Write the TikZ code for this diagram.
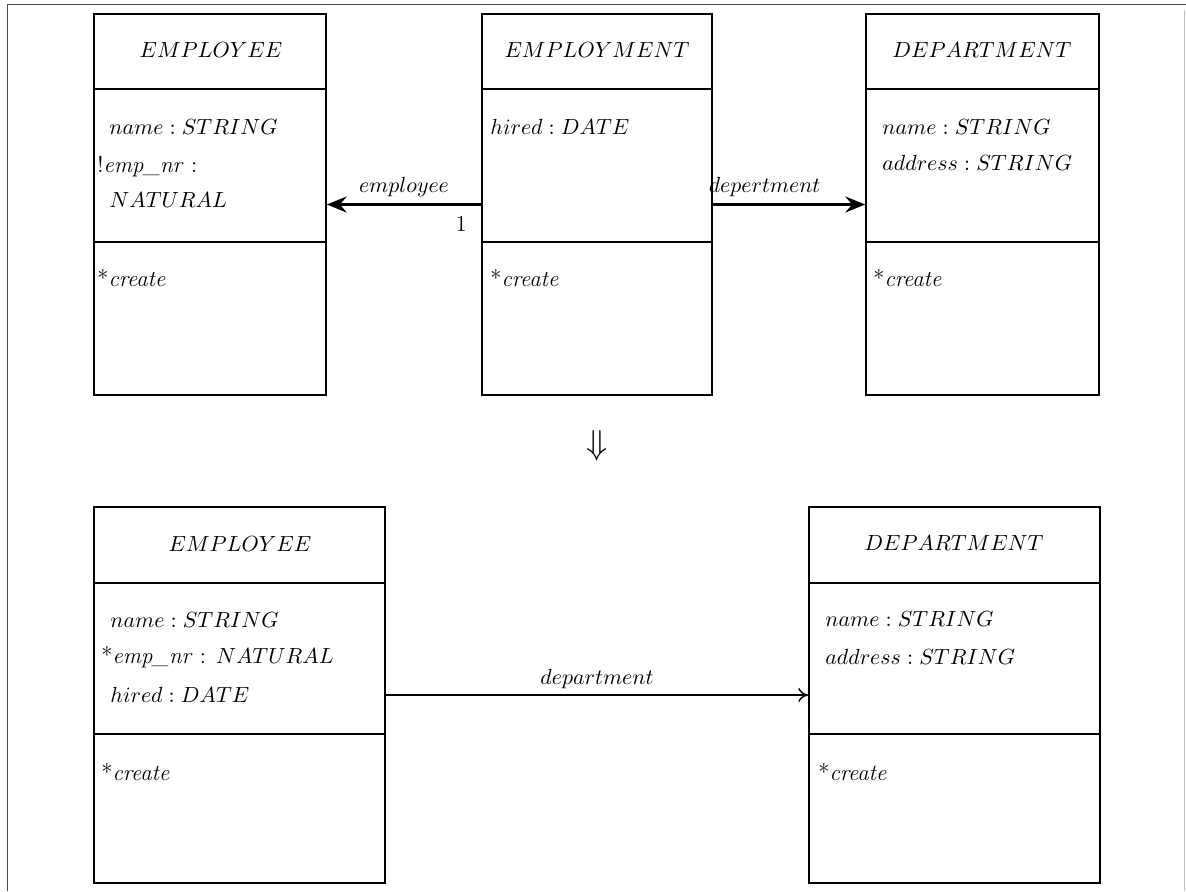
\documentclass[tikz,border=0pt]{standalone}
\usetikzlibrary{arrows.meta}
\begin{document}
\begin{tikzpicture}[x=0.5pt,y=-0.5pt,
  classbox/.style={draw,line width=0.75pt,rectangle,inner sep=0pt},
  lbl/.style={inner sep=0pt,font=\fontsize{11.4}{14}\selectfont},
  attr/.style={lbl,anchor=west},
  frameline/.style={line width=0.5pt,black!70},
  thickassoc/.style={line width=1.5pt,-{Stealth[length=10pt,width=8pt,inset=3.5pt]}},
  thinassoc/.style={line width=0.7pt,-{To[length=5pt,width=7pt]}}]
\useasboundingbox (0,0) rectangle (1186,891);
% page frame
\coordinate (fTL) at (7,4);
\coordinate (fTR) at (1186,4);
\coordinate (fBL) at (7,891);
\coordinate (fRT) at (1184,10);
\coordinate (fRB) at (1184,891);
\draw[frameline] (fBL) -- (fTL) -- (fTR);
\draw[line width=0.4pt,black!25] (fRT) -- (fRB);

% ---------- top row ----------
\node[classbox,minimum width=116pt,minimum height=190.5pt] (emp1) at (210,204.5) {};
\node[classbox,minimum width=115pt,minimum height=190.5pt] (empl) at (597,204.5) {};
\node[classbox,minimum width=116.5pt,minimum height=190.5pt] (dep1) at (982.5,204.5) {};
\foreach \b in {emp1,empl,dep1}{
  \draw[line width=0.75pt] (\b.west |- 0,89) -- (\b.east |- 0,89);
  \draw[line width=0.75pt] (\b.west |- 0,242) -- (\b.east |- 0,242);
}
\node[lbl] (emp1t) at (211,50) {$EMPLOYEE$};
\node[attr] (emp1a) at (109,127) {$name : STRING$};
\node[attr] (emp1b) at (97,167) {!\textit{emp\_nr} :};
\node[attr] (emp1c) at (109,200) {$NATURAL$};
\node[attr] (emp1d) at (97,278) {*\textit{create}};

\node[lbl] (emplt) at (597,50) {$EMPLOYMENT$};
\node[attr] (empla) at (490,127) {$hired : DATE$};
\node[attr] (empld) at (490,278) {*\textit{create}};

\node[lbl] (dep1t) at (982,50) {$DEPARTMENT$};
\node[attr] (dep1a) at (882,127) {$name : STRING$};
\node[attr] (dep1b) at (882,163) {$address : STRING$};
\node[attr] (dep1d) at (873,278) {*\textit{create}};

\draw[thickassoc] (empl) -- node[lbl,above=3pt,pos=0.5] (lemp) {$employee$} node[lbl,below=5pt,pos=0.13] (one) {1} (emp1);
\draw[thickassoc] (empl) -- node[lbl,above=3pt,pos=0.34] (ldep) {$depertment$} (dep1);

% transformation arrow
\node[inner sep=0pt,font=\fontsize{17}{20}\selectfont] (down) at (597,446) {$\Downarrow$};

% ---------- bottom row ----------
\node[classbox,minimum width=145.5pt,minimum height=188pt] (emp2) at (239.5,695) {};
\node[classbox,minimum width=145.5pt,minimum height=188pt] (dep2) at (954.5,695) {};
\foreach \b in {emp2,dep2}{
  \draw[line width=0.75pt] (\b.west |- 0,583) -- (\b.east |- 0,583);
  \draw[line width=0.75pt] (\b.west |- 0,734) -- (\b.east |- 0,734);
}
\node[lbl] (emp2t) at (240,544) {$EMPLOYEE$};
\node[attr] (emp2a) at (110,620) {$name : STRING$};
\node[attr] (emp2b) at (101,657) {*\textit{emp\_nr} : $NATURAL$};
\node[attr] (emp2c) at (110,695) {$hired : DATE$};
\node[attr] (emp2d) at (101,772) {*\textit{create}};

\node[lbl] (dep2t) at (954,543) {$DEPARTMENT$};
\node[attr] (dep2a) at (825,619) {$name : STRING$};
\node[attr] (dep2b) at (825,657) {$address : STRING$};
\node[attr] (dep2d) at (818,772) {*\textit{create}};

\draw[thinassoc] (emp2) -- node[lbl,above=3pt] (ldep2) {$department$} (dep2);
\end{tikzpicture}
\end{document}
